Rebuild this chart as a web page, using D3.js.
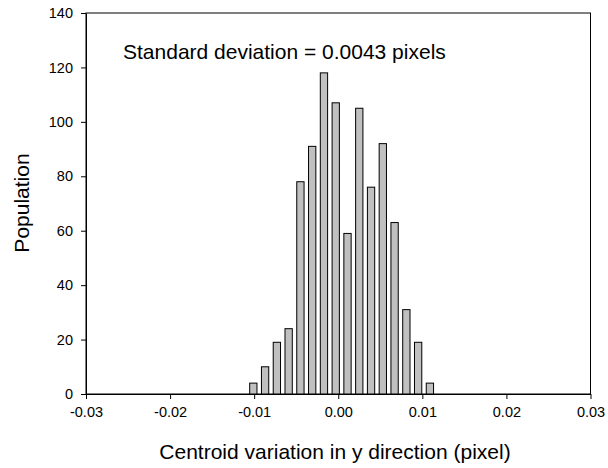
<!DOCTYPE html>
<html><head><meta charset="utf-8">
<script src="https://cdn.jsdelivr.net/npm/d3@7"></script>
<style>body{margin:0;background:#fff}svg{display:block}text{font-family:"Liberation Sans",Arial,sans-serif;fill:#000}</style>
</head><body>
<svg id="c" width="608" height="468"></svg>
<script>
const binCenters = [-0.0101,-0.0087,-0.0073,-0.0059,-0.0045,-0.0031,-0.0017,-0.0003,0.0011,0.0025,0.0039,0.0053,0.0067,0.0081,0.0095,0.0109];
const population = [4,10,19,24,78,91,118,107,59,105,76,92,63,31,19,4];
const xTicks = [-0.03,-0.02,-0.01,0,0.01,0.02,0.03];
const yTicks = [0,20,40,60,80,100,120,140];
const annotation = "Standard deviation = 0.0043 pixels";
const xTitle = "Centroid variation in y direction (pixel)";
const yTitle = "Population";

const svg = d3.select("#c");
const L=86, R=590.5, T=13, B=394;
const x = d3.scaleLinear().domain([-0.03,0.03]).range([L,R]);
const y = d3.scaleLinear().domain([0,140]).range([B,T]);
const binStep = binCenters[1]-binCenters[0];
const bw = x(binStep*0.62)-x(0);

svg.append("rect").attr("x",L).attr("y",T).attr("width",R-L).attr("height",B-T)
  .attr("fill","none").attr("stroke","#000").attr("stroke-width",1);

svg.append("g").selectAll("rect").data(binCenters).join("rect")
  .attr("x",(d)=>x(d)-bw/2).attr("width",bw)
  .attr("y",(d,i)=>y(population[i])).attr("height",(d,i)=>y(0)-y(population[i]))
  .attr("fill","#c0c0c0").attr("stroke","#000").attr("stroke-width",1);

const fmt = d=>d===0?"0.00":d3.format(".2f")(d).replace("\u2212","-");
const xa = svg.append("g").attr("transform",`translate(0,${B})`)
  .call(d3.axisBottom(x).tickValues(xTicks).tickFormat(fmt).tickSize(5).tickPadding(8).tickSizeOuter(0));
const ya = svg.append("g").attr("transform",`translate(${L},0)`)
  .call(d3.axisLeft(y).tickValues(yTicks).tickSize(5).tickPadding(8).tickSizeOuter(0));
[xa,ya].forEach(a=>{a.attr("font-size",14.5).attr("font-family","Liberation Sans, Arial, sans-serif");
  a.select(".domain").attr("stroke","#000");a.selectAll("line").attr("stroke","#000");
  a.selectAll("text").attr("fill","#000");});

svg.append("text").attr("x",123).attr("y",59).attr("font-size",21).text(annotation);
svg.append("text").attr("x",335).attr("y",459).attr("text-anchor","middle").attr("font-size",21).text(xTitle);
svg.append("text").attr("transform","translate(29,203) rotate(-90)").attr("text-anchor","middle").attr("font-size",21).text(yTitle);
</script>
</body></html>
